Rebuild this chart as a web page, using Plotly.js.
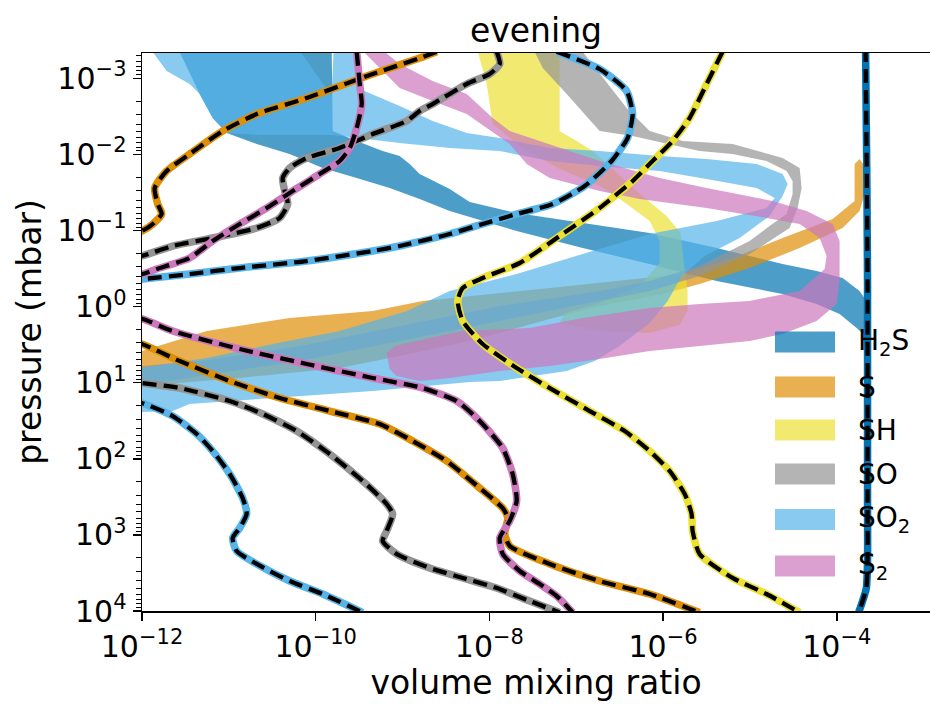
<!DOCTYPE html>
<html><head><meta charset="utf-8">
<script src="https://cdn.plot.ly/plotly-3.0.1.min.js"></script>
<style>html,body{margin:0;padding:0;background:#fff}#chart{width:930px;height:704px}</style>
</head><body><div id="chart"></div>
<script>
// ---------------- DATA (log10 of volume mixing ratio, log10 of pressure in mbar) ----------------
const species = ['H2S', 'S', 'SH', 'SO', 'SO2', 'S2'];
const legendLabels = ['H<sub>2</sub>S', 'S', 'SH', 'SO', 'SO<sub>2</sub>', 'S<sub>2</sub>'];
const xTickVals = [1e-12, 1e-10, 1e-8, 1e-6, 1e-4];
const xTickText = ['10<sup>\u221212</sup>', '10<sup>\u221210</sup>', '10<sup>\u22128</sup>', '10<sup>\u22126</sup>', '10<sup>\u22124</sup>'];
const yTickVals = [1e-3, 1e-2, 1e-1, 1, 10, 100, 1000, 10000];
const yTickText = ['10<sup>\u22123</sup>', '10<sup>\u22122</sup>', '10<sup>\u22121</sup>', '10<sup>0</sup>', '10<sup>1</sup>', '10<sup>2</sup>', '10<sup>3</sup>', '10<sup>4</sup>'];

// profiles (dashed lines)
const H2S_line_lgx = [-3.669,-3.663,-3.657,-3.652,-3.646,-3.646,-3.646,-3.646,-3.660,-3.703,-3.749];
const H2S_line_lgp = [-3.4,-2.702,-2.045,-1.388,-0.297,1.241,2.555,3.343,3.698,3.869,4.02];

const S_line_lgx = [-8.607,-8.803,-9.344,-10.104,-10.679,-11.071,-11.451,-11.716,-11.854,-11.819,-11.773,-11.877,-12.003,-12.5,-12.5,
  -12.003,-11.566,-10.990,-10.415,-9.839,-9.263,-8.883,-8.492,-8.112,-7.847,-7.789,-7.824,-7.766,-7.305,-6.731,-6.155,-5.580];
const S_line_lgp = [-3.35,-3.266,-3.056,-2.741,-2.531,-2.307,-2.005,-1.782,-1.559,-1.348,-1.217,-1.085,-0.993,-0.8,0.33,
  0.491,0.715,0.978,1.201,1.372,1.543,1.766,2.029,2.384,2.647,2.778,2.988,3.146,3.382,3.606,3.777,4.02];

const SH_line_lgx = [-5.315,-5.499,-5.695,-5.891,-6.121,-6.351,-6.731,-7.191,-7.651,-8.077,-8.307,-8.365,-8.307,-8.077,-7.686,-7.305,-6.845,-6.442,-6.155,-5.925,-5.751,-5.672,-5.660,-5.580,-5.200,-4.809,-4.428];
const SH_line_lgp = [-3.35,-2.925,-2.478,-2.176,-1.913,-1.650,-1.296,-0.928,-0.573,-0.376,-0.244,-0.074,0.189,0.491,0.807,1.070,1.372,1.635,1.898,2.160,2.463,2.725,2.949,3.251,3.566,3.777,4.02];

const SO_line_lgx = [-7.916,-7.881,-7.997,-8.261,-8.653,-8.803,-8.952,-9.344,-9.724,-10.104,-10.300,-10.380,-10.357,-10.322,-10.415,-10.679,-11.071,-11.647,-12.003,-12.5,-12.5,
  -12.003,-11.566,-10.990,-10.610,-10.219,-9.839,-9.459,-9.183,-9.114,-9.183,-9.229,-9.068,-8.688,-8.307,-7.916,-7.536,-7.191];
const SO_line_lgp = [-3.35,-3.188,-3.056,-2.925,-2.662,-2.570,-2.439,-2.268,-2.084,-1.953,-1.821,-1.690,-1.519,-1.348,-1.164,-1.033,-0.928,-0.796,-0.665,-0.55,0.92,
  1.004,1.070,1.241,1.411,1.635,1.937,2.292,2.594,2.725,2.949,3.080,3.251,3.435,3.566,3.698,3.869,4.02];

const SO2_line_lgx = [-7.225,-6.731,-6.420,-6.351,-6.409,-6.593,-6.903,-7.271,-7.686,-8.077,-8.457,-9.033,-9.344,-10.104,-10.875,-11.451,-11.992,-12.5,-12.5,
  -12.003,-11.647,-11.370,-11.186,-10.990,-10.841,-10.795,-10.875,-10.956,-10.910,-10.679,-10.300,-9.919,-9.459];
const SO2_line_lgp = [-3.35,-3.122,-2.833,-2.531,-2.215,-1.913,-1.585,-1.348,-1.217,-1.085,-0.954,-0.796,-0.731,-0.599,-0.507,-0.428,-0.363,-0.32,1.14,
  1.267,1.438,1.674,1.898,2.200,2.515,2.725,2.909,3.041,3.212,3.382,3.606,3.777,4.02];

const S2_line_lgx = [-9.528,-9.493,-9.470,-9.528,-9.608,-9.724,-9.954,-10.265,-10.564,-10.875,-11.186,-11.451,-11.831,-11.992,-12.5,-12.5,
  -11.992,-11.647,-10.875,-10.104,-9.344,-8.768,-8.376,-8.112,-7.847,-7.732,-7.686,-7.766,-7.881,-7.847,-7.651,-7.421,-7.225,-7.041];
const S2_line_lgp = [-3.35,-2.925,-2.662,-2.347,-2.084,-1.913,-1.742,-1.519,-1.296,-1.085,-0.862,-0.639,-0.494,-0.428,-0.36,0.06,
  0.163,0.321,0.557,0.754,0.938,1.070,1.241,1.503,1.858,2.200,2.555,2.817,3.041,3.251,3.474,3.645,3.803,4.02];

// ranges (shaded envelopes), outlines
const H2S_band_lgx = [-11.589,-9.816,-9.804,-9.528,-9.229,-9.033,-8.918,-8.803,-8.457,-8.227,-7.686,-6.926,-6.155,-5.384,-4.624,-4.232,-3.933,-3.738,-3.657,-3.646,-3.772,-3.968,-4.232,-4.624,-5.384,-6.155,-6.926,-7.686,-8.457,-8.803,-9.148,-9.528,-9.919,-10.300,-10.679,-11.025,-11.186,-11.336];
const H2S_band_lgp = [-3.4,-3.4,-2.307,-2.176,-2.045,-1.979,-1.874,-1.742,-1.545,-1.375,-1.230,-1.099,-0.967,-0.770,-0.560,-0.468,-0.376,-0.205,-0.074,0.413,0.281,0.097,-0.034,-0.166,-0.336,-0.560,-0.770,-0.993,-1.256,-1.414,-1.559,-1.690,-1.821,-2.005,-2.137,-2.281,-2.478,-2.793];

const S_band_lgx = [-12.37,-12.003,-11.255,-10.300,-9.344,-8.768,-7.305,-5.775,-5.200,-4.624,-4.048,-3.795,-3.795,-3.738,-3.680,-3.669,-3.738,-3.933,-4.428,-5.004,-5.580,-6.006,-6.731,-7.305,-8.227,-9.033,-9.724,-10.875,-12.003,-12.37];
const S_band_lgp = [0.610,0.583,0.321,0.150,0.058,-0.074,-0.244,-0.428,-0.639,-0.901,-1.151,-1.388,-1.874,-1.940,-1.848,-1.519,-1.256,-1.033,-0.770,-0.507,-0.297,-0.166,-0.008,0.163,0.452,0.649,0.807,0.938,1.043,1.070];

const SH_band_lgx = [-8.146,-8.031,-7.962,-7.766,-7.570,-7.191,-6.731,-6.466,-6.155,-6.040,-6.040,-6.270,-6.731,-7.133,-7.191,-6.731,-6.155,-5.810,-5.718,-5.718,-5.764,-5.798,-5.960,-6.305,-6.616,-6.811,-6.995,-7.191,-7.191];
const SH_band_lgp = [-3.4,-2.925,-2.399,-2.215,-2.045,-1.808,-1.585,-1.388,-1.125,-0.862,-0.573,-0.271,-0.047,0.084,0.216,0.321,0.347,0.242,0.058,-0.205,-0.599,-0.967,-1.191,-1.519,-1.848,-2.045,-2.176,-2.307,-3.4];

const SO_band_lgx = [-7.501,-7.386,-7.110,-6.731,-6.351,-5.960,-5.580,-5.200,-4.809,-4.578,-4.509,-4.509,-4.578,-4.774,-5.004,-5.580,-6.155,-6.731,-7.881,-9.033,-10.184,-11.336,-12.003,-12.37,
  -12.37,-12.003,-11.336,-10.184,-9.033,-7.881,-6.731,-6.155,-5.580,-5.004,-4.543,-4.451,-4.405,-4.428,-4.624,-5.200,-5.775,-6.155,-6.420,-6.731,-6.961];
const SO_band_lgp = [-3.4,-3.135,-2.793,-2.307,-2.241,-2.137,-2.045,-2.005,-1.913,-1.782,-1.650,-1.480,-1.217,-1.059,-0.862,-0.534,-0.336,-0.205,-0.008,0.255,0.518,0.715,0.781,0.794,
  1.083,1.043,0.912,0.715,0.452,0.189,-0.074,-0.205,-0.402,-0.691,-1.033,-1.296,-1.559,-1.821,-1.953,-2.137,-2.176,-2.307,-2.610,-3.056,-3.4];

const SO2_band_lgx = [-11.911,-10.207,-9.816,-9.793,-9.516,-9.493,-9.033,-8.653,-8.261,-7.881,-7.305,-6.731,-6.040,-5.499,-4.924,-4.624,-4.566,-4.624,-4.774,-5.119,-5.521,-5.786,-5.947,-6.155,-6.501,-6.788,-7.110,-7.881,-8.227,-9.344,-10.495,-11.451,-11.647,-12.003,-12.37,
  -12.37,-12.026,-11.255,-10.495,-9.724,-8.952,-8.457,-7.686,-6.926,-6.155,-5.384,-4.809,-4.715,-4.924,-5.499,-6.040,-6.731,-7.305,-7.881,-8.457,-9.033,-9.804,-10.645,-11.025,-11.186,-11.336,-11.451,-11.716];
const SO2_band_lgp = [-3.4,-3.4,-2.768,-3.4,-3.4,-2.859,-2.636,-2.439,-2.281,-2.215,-2.084,-2.045,-1.979,-1.940,-1.874,-1.742,-1.611,-1.453,-1.191,-0.901,-0.665,-0.402,-0.074,0.216,0.518,0.715,0.846,0.978,0.991,1.109,1.201,1.280,1.372,1.386,1.40,
  0.820,0.807,0.675,0.491,0.321,0.058,-0.205,-0.428,-0.691,-0.954,-1.125,-1.296,-1.427,-1.559,-1.677,-1.782,-1.848,-1.913,-2.045,-2.084,-2.150,-2.255,-2.255,-2.281,-2.478,-2.793,-2.925,-3.096];

const S2_band_lgx = [-9.493,-9.033,-8.653,-8.261,-7.766,-7.570,-7.305,-6.731,-6.270,-5.499,-4.809,-4.428,-4.198,-4.117,-4.140,-4.428,-5.004,-5.580,-6.155,-6.926,-7.536,-8.307,-8.688,-9.091,-9.183,
  -9.148,-9.068,-8.803,-8.457,-7.881,-7.305,-6.731,-6.155,-5.580,-5.004,-4.624,-4.232,-4.002,-3.968,-3.968,-4.048,-4.348,-4.739,-5.499,-6.040,-6.731,-7.305,-7.766,-7.962,-8.261,-8.653,-9.033,-9.263];
const S2_band_lgp = [-3.4,-2.872,-2.702,-2.531,-2.137,-1.874,-1.690,-1.519,-1.414,-1.296,-1.164,-1.085,-0.901,-0.665,-0.494,-0.205,-0.074,-0.034,0.018,0.150,0.281,0.321,0.413,0.518,0.610,
  0.820,0.912,0.978,0.938,0.846,0.781,0.688,0.583,0.518,0.452,0.360,0.189,-0.034,-0.336,-0.862,-1.085,-1.256,-1.388,-1.559,-1.690,-1.913,-2.137,-2.307,-2.478,-2.793,-2.965,-3.188,-3.4];

// ---------------- STYLE ----------------
const bandColors = ['rgba(1,115,178,0.7)', 'rgba(222,143,5,0.7)', 'rgba(236,225,51,0.7)', 'rgba(148,148,148,0.7)', 'rgba(86,180,233,0.7)', 'rgba(204,120,188,0.7)'];
const lineColors = ['#0173B2', '#DE8F05', '#ECE133', '#949494', '#56B4E9', '#CC78BC'];

const bands = [[H2S_band_lgx, H2S_band_lgp], [S_band_lgx, S_band_lgp], [SH_band_lgx, SH_band_lgp], [SO_band_lgx, SO_band_lgp], [SO2_band_lgx, SO2_band_lgp], [S2_band_lgx, S2_band_lgp]];
const lines = [[H2S_line_lgx, H2S_line_lgp], [S_line_lgx, S_line_lgp], [SH_line_lgx, SH_line_lgp], [SO_line_lgx, SO_line_lgp], [SO2_line_lgx, SO2_line_lgp], [S2_line_lgx, S2_line_lgp]];

const pow10 = a => a.map(v => Math.pow(10, v));
const traces = [];
bands.forEach((b, i) => {
  traces.push({type: 'scatter', mode: 'lines', x: pow10(b[0]), y: pow10(b[1]), fill: 'toself',
    fillcolor: bandColors[i], line: {width: 0}, hoverinfo: 'skip', showlegend: false, name: species[i] + ' range'});
});
lines.forEach((l, i) => {
  traces.push({type: 'scatter', mode: 'lines', x: pow10(l[0]), y: pow10(l[1]),
    line: {color: lineColors[i], width: 7.5, shape: 'spline', smoothing: 0.6}, hoverinfo: 'skip', showlegend: false, name: species[i]});
  traces.push({type: 'scatter', mode: 'lines', x: pow10(l[0]), y: pow10(l[1]),
    line: {color: 'black', width: 4.3, dash: '14px,7px', shape: 'spline', smoothing: 0.6}, hoverinfo: 'skip', showlegend: false, name: species[i] + ' profile'});
});

// ---------------- LAYOUT ----------------
const W = 930, H = 704, M = {l: 142, r: 0, t: 53, b: 93};
const PW = W - M.l - M.r, PH = H - M.t - M.b;
const fx = px => (px - M.l) / PW;
const fy = py => (H - M.b - py) / PH;

const minorVals = [];
for (let d = -4; d <= 3; d++) for (let k = 2; k <= 9; k++) minorVals.push(k * Math.pow(10, d));

const legRows = [342, 387, 430, 474, 519.5, 566];
const shapes = [], annotations = [];
legRows.forEach((c, i) => {
  shapes.push({type: 'rect', xref: 'paper', yref: 'paper', x0: fx(775), x1: fx(835), y0: fy(c + 10.5), y1: fy(c - 10.5),
    fillcolor: bandColors[i], line: {width: 0}, layer: 'above'});
  annotations.push({xref: 'paper', yref: 'paper', x: fx(856), y: fy(c), xanchor: 'left', yanchor: 'middle',
    text: legendLabels[i], showarrow: false, font: {size: 28, color: 'black'}});
});

const axisCommon = {type: 'log', tickmode: 'array', ticks: 'outside', ticklen: 8, tickwidth: 1.5, tickcolor: 'black',
  showline: true, linewidth: 1.5, linecolor: 'black', showgrid: false, zeroline: false, tickfont: {size: 30, color: 'black'}};

const layout = {
  width: W, height: H, margin: {l: M.l, r: M.r, t: M.t, b: M.b, pad: 0},
  paper_bgcolor: 'white', plot_bgcolor: 'white', showlegend: false,
  font: {family: 'DejaVu Sans, sans-serif', color: 'black'},
  title: {text: 'evening', font: {size: 33, color: 'black'}, x: 0.5, xref: 'paper', xanchor: 'center', y: 1 - 30 / H, yref: 'container', yanchor: 'middle'},
  xaxis: Object.assign({}, axisCommon, {range: [-12, -12 + PW / 86.85], tickvals: xTickVals, ticktext: xTickText, mirror: true,
    title: {text: 'volume mixing ratio', font: {size: 33, color: 'black'}, standoff: 4}}),
  yaxis: Object.assign({}, axisCommon, {range: [4, 4 - PH / 76.1], tickvals: yTickVals, ticktext: yTickText, mirror: false,
    minor: {tickmode: 'array', tickvals: minorVals, ticks: 'outside', ticklen: 4.5, tickwidth: 1, tickcolor: 'black', showgrid: false},
    title: {text: 'pressure (mbar)', font: {size: 33, color: 'black'}, standoff: 6}}),
  shapes: shapes, annotations: annotations
};

Plotly.newPlot('chart', traces, layout, {displayModeBar: false, staticPlot: true});
</script></body></html>
